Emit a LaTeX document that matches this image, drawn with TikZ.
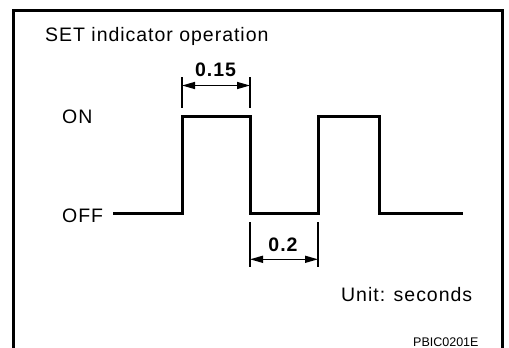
\documentclass[tikz,border=0pt]{standalone}
\usepackage{fontspec}
\setmainfont{Liberation Sans}[LetterSpace=5]
\newfontfamily\smallfont{Liberation Sans}
\usetikzlibrary{arrows.meta}
\tikzset{
  frameline/.style={line width=3pt, line cap=butt, line join=miter},
  wave/.style={line width=3pt, line join=miter},
  extline/.style={line width=1.5pt},
  dimarrow/.style={line width=1.5pt, {Triangle[length=13pt,width=7pt]}-{Triangle[length=13pt,width=7pt]}},
  lbl/.style={inner sep=0pt, anchor=base west, font=\fontsize{19.5}{22}\selectfont},
  numlbl/.style={inner sep=0pt, anchor=base, font=\fontsize{19.5}{22}\selectfont\bfseries},
  codelbl/.style={inner sep=0pt, anchor=base west, font=\smallfont\fontsize{12.5}{14}\selectfont}
}
\begin{document}
\begin{tikzpicture}[x=1pt,y=-1pt]
\useasboundingbox (0,0) rectangle (509,348);
% frame (open at bottom)
\draw[frameline] (13.5,360) -- (13.5,10) -- (502,10) -- (502,360);
% labels
\node[lbl] (title) at (45,41) {SET indicator operation};
\node[lbl] (on) at (62,123) {ON};
\node[lbl] (off) at (62,222) {OFF};
\node[lbl] (unit) at (341,301) {Unit: seconds};
\node[codelbl] (code) at (413,346.5) {PBIC0201E};
% waveform points
\coordinate (w0) at (113,213);
\coordinate (w1) at (182,213);
\coordinate (w2) at (182,116);
\coordinate (w3) at (250,116);
\coordinate (w4) at (250,213);
\coordinate (w5) at (318,213);
\coordinate (w6) at (318,116);
\coordinate (w7) at (379,116);
\coordinate (w8) at (379,213);
\coordinate (w9) at (463,213);
\draw[wave] (w0) -- (w1) -- (w2) -- (w3) -- (w4) -- (w5) -- (w6) -- (w7) -- (w8) -- (w9);
% dimension 0.15
\coordinate (a1t) at (182,77);
\coordinate (a1b) at (182,108);
\coordinate (a2t) at (250,77);
\coordinate (a2b) at (250,108);
\draw[extline] (a1t) -- (a1b);
\draw[extline] (a2t) -- (a2b);
\coordinate (d1l) at (182,85.5);
\coordinate (d1r) at (250,85.5);
\draw[dimarrow] (d1l) -- (d1r);
\node[numlbl] (t015) at (215.5,76) {0.15};
% dimension 0.2
\coordinate (b1t) at (250,222);
\coordinate (b1b) at (250,267);
\coordinate (b2t) at (318,222);
\coordinate (b2b) at (318,267);
\draw[extline] (b1t) -- (b1b);
\draw[extline] (b2t) -- (b2b);
\coordinate (d2l) at (250,259.3);
\coordinate (d2r) at (318,259.3);
\draw[dimarrow] (d2l) -- (d2r);
\node[numlbl] (t02) at (283,251) {0.2};
\end{tikzpicture}
\end{document}
